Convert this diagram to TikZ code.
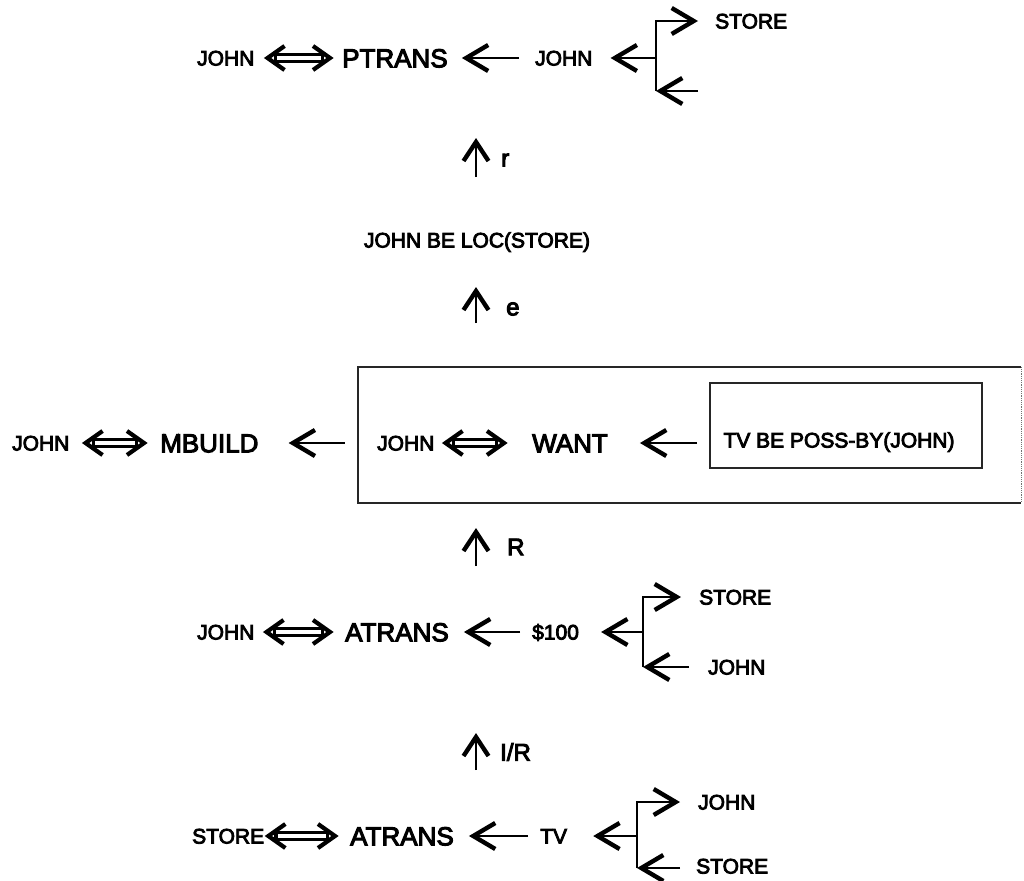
\documentclass[tikz,border=0pt]{standalone}
\usepackage{fontspec}
\setmainfont{Liberation Sans}[FakeBold=4]
\usetikzlibrary{arrows.meta,calc}
\newcommand\dblarr[4]{%
  \path ($(#1.east)+(#3,0)$) coordinate (dl) ($(#2.west)-(#4,0)$) coordinate (dr);
  \draw[line width=10pt] ($(dl)+(6,0)$) -- ($(dr)-(6,0)$);
  \draw[white, line width=4pt] ($(dl)+(9.5,0)$) -- ($(dr)-(9.5,0)$);
  \draw[line width=4.2pt] ($(dl)+(17,-12)$) -- (dl) -- ($(dl)+(17,12)$);
  \draw[line width=4.2pt] ($(dr)+(-17,-12)$) -- (dr) -- ($(dr)+(-17,12)$);
}
\begin{document}
\begin{tikzpicture}[x=1pt,y=-1pt,
  sm/.style={font=\fontsize{21}{24}\selectfont, inner sep=0pt, text height=15pt, text depth=0pt},
  smw/.style={sm, anchor=west},
  lg/.style={font=\fontsize{26}{30}\selectfont, inner sep=0pt, text height=18.6pt, text depth=0pt, anchor=west},
  lab/.style={font=\fontsize{24}{28}\selectfont, inner sep=0pt, anchor=west},
  harr/.style={line width=2pt, -{Straight Barb[length=22pt,width=26pt,line width=4.4pt]}},
  varr/.style={line width=2pt, -{Straight Barb[length=19pt,width=25pt,line width=4.4pt]}},
  frame/.style={line width=2pt, black!85}
]
\useasboundingbox (0,0) rectangle (1024,880);

% ---------- top row ----------
\node[smw] (tj) at (197,58) {JOHN};
\node[lg] (tp) at (342,58) {PTRANS};
\node[smw] (tj2) at (535,58) {JOHN};
\node[smw] (ts) at (715,21) {STORE};
\coordinate (tbm) at (656,58);
\coordinate (tbt) at (656,21);
\coordinate (tbb) at (656,91);
\coordinate (tbe) at (698,91);
\dblarr{tj}{tp}{13}{12}
\draw[harr] ($(tj2.west)+(-16,0)$) -- ($(tp.east)+(14,0)$);
\draw[harr] (tbm) -- ($(tj2.east)+(18,0)$);
\draw[harr] (tbb) -- (tbt) -- ($(ts.west |- tbt)+(-17,0)$);
\draw[harr] (tbe) -- (tbb);

% ---------- r / e ----------
\coordinate (rb) at (476,177);
\coordinate (rt) at (476,138);
\draw[varr] (rb) -- (rt);
\node[lab] (rl) at (501,160) {r};
\node[sm] (loc) at (477,240) {JOHN BE LOC(STORE)};
\coordinate (eb) at (476,323);
\coordinate (et) at (476,287);
\draw[varr] (eb) -- (et);
\node[lab] (el) at (506,309) {e};

% ---------- middle row ----------
\node[smw] (mj) at (12,443) {JOHN};
\node[lg] (mb) at (160,443) {MBUILD};
\node[inner sep=0pt, minimum width=663pt, minimum height=136pt] (ob) at (689.5,435) {};
\draw[frame, line width=1.6pt] (ob.north east) -- (ob.north west) -- (ob.south west) -- (ob.south east);
\draw[black!55, densely dotted, line width=1.2pt] (ob.north east) -- (ob.south east);
\node[smw] (wj) at (377,443) {JOHN};
\node[lg] (ww) at (532,443) {WANT};
\node[draw, frame, inner sep=0pt, minimum width=272pt, minimum height=85pt] (ib) at (846,425.5) {};
\node[sm] (poss) at (839,440) {TV BE POSS-BY(JOHN)};
\dblarr{mj}{mb}{16}{16}
\dblarr{wj}{ww}{11}{28}
\draw[harr] ($(ob.west |- mb.east)+(-13,0)$) -- ($(mb.east)+(30,0)$);
\draw[harr] ($(ib.west |- ww.east)+(-12,0)$) -- ($(ww.east)+(32,0)$);

% ---------- R ----------
\coordinate (Rb) at (476,566);
\coordinate (Rt) at (476,528);
\draw[varr] (Rb) -- (Rt);
\node[lab] (Rl) at (507,547) {R};

% ---------- ATRANS row ----------
\node[smw] (aj) at (197,632) {JOHN};
\node[lg] (aa) at (345,632) {ATRANS};
\node[smw] (am) at (532,632) {\$100};
\node[smw] (as) at (699,597) {STORE};
\node[smw] (aj2) at (708,667) {JOHN};
\coordinate (abm) at (643,632);
\coordinate (abt) at (643,597);
\coordinate (abb) at (643,667);
\coordinate (abe) at (689,667);
\dblarr{aj}{aa}{12}{15}
\draw[harr] ($(am.west)+(-12,0)$) -- ($(aa.east)+(15,0)$);
\draw[harr] (abm) -- ($(am.east)+(22,0)$);
\draw[harr] (abb) -- (abt) -- ($(as.west)+(-18,0)$);
\draw[harr] (abe) -- (abb);

% ---------- I/R ----------
\coordinate (Ib) at (476,770);
\coordinate (It) at (476,733);
\draw[varr] (Ib) -- (It);
\node[lab] (Il) at (500,752) {I/R};

% ---------- bottom row ----------
\node[smw] (bs) at (192,836) {STORE};
\node[lg] (ba) at (350,836) {ATRANS};
\node[smw] (bt) at (540,836) {TV};
\node[smw] (bj) at (698,802) {JOHN};
\node[smw] (bs2) at (696,866) {STORE};
\coordinate (bbm) at (637,836);
\coordinate (bbt) at (637,802);
\coordinate (bbb) at (637,868);
\coordinate (bbe) at (680,868);
\dblarr{bs}{ba}{4}{15}
\draw[harr] ($(bt.west)+(-12,0)$) -- ($(ba.east)+(15,0)$);
\draw[harr] (bbm) -- ($(bt.east)+(26,0)$);
\draw[harr] (bbb) -- (bbt) -- ($(bj.west)+(-18,0)$);
\draw[harr] (bbe) -- (bbb);
\end{tikzpicture}
\end{document}
